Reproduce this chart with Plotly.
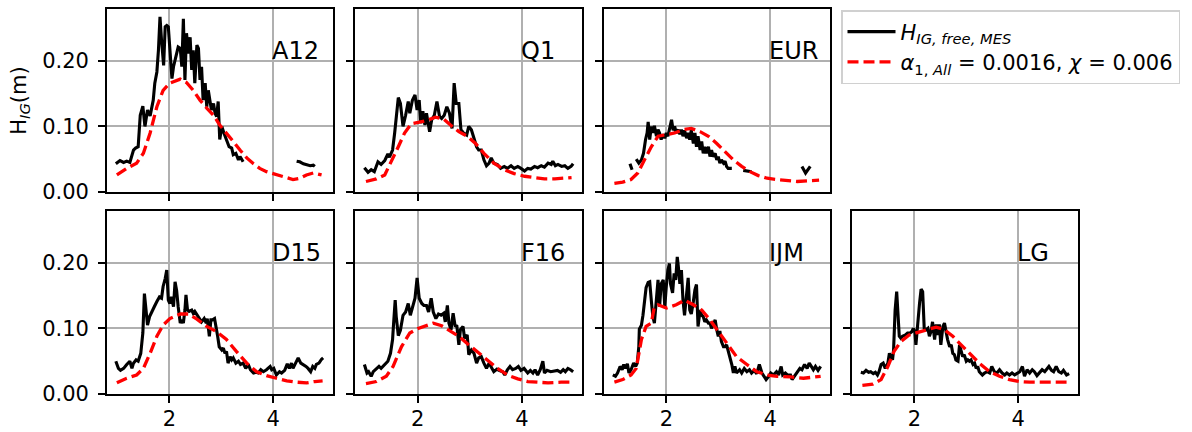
import plotly.graph_objects as go

# ---------------- data ----------------
names = ["A12", "Q1", "EUR", "D15", "F16", "IJM", "LG"]

A12_bx = [0.97,1.05,1.12,1.18,1.24,1.31,1.35,1.40,1.44,1.49,1.53,1.58,1.63,1.69,1.72,1.76,1.79,1.82,1.85,1.89,
          1.92,1.95,1.98,2.01,2.05,2.08,2.13,2.17,2.21,2.24,2.27,2.30,2.33,2.37,2.40,2.43,2.46,2.49,2.53,2.56,
          2.59,2.62,2.65,2.69,2.72,2.75,2.78,2.81,2.85,2.88,2.91,2.94,2.97,3.01,3.05,3.10,3.15,3.20,3.23,3.28,
          3.33,3.36,3.42,None,4.45,4.51,4.58,4.64,4.71,4.77,4.80]
A12_by = [0.043,0.048,0.045,0.047,0.045,0.064,0.067,0.069,0.117,0.131,0.100,0.125,0.116,0.140,0.166,0.183,0.216,0.267,0.231,0.193,
          0.252,0.254,0.252,0.211,0.173,0.191,0.209,0.221,0.219,0.191,0.264,0.171,0.242,0.211,0.236,0.186,0.216,0.166,0.224,0.219,
          0.171,0.191,0.140,0.166,0.130,0.155,0.140,0.125,0.135,0.120,0.115,0.138,0.080,0.100,0.090,0.080,0.069,0.067,0.057,0.059,
          0.049,0.054,0.046,None,0.047,0.046,0.043,0.042,0.040,0.041,0.039]
A12_rx = [0.99,1.18,1.37,1.50,1.63,1.76,1.88,2.01,2.21,2.33,2.46,2.59,2.72,2.85,2.97,3.10,3.23,3.36,3.49,3.62,
          3.74,3.87,4.00,4.13,4.26,4.38,4.51,4.64,4.77,4.93]
A12_ry = [0.026,0.036,0.044,0.059,0.090,0.130,0.155,0.166,0.172,0.167,0.155,0.140,0.128,0.117,0.102,0.090,0.077,0.064,0.052,0.043,
          0.036,0.031,0.028,0.024,0.021,0.019,0.021,0.026,0.029,0.026]

Q1_bx = [0.98,1.05,1.11,1.17,1.24,1.30,1.37,1.43,1.46,1.52,1.56,1.63,1.67,1.72,1.77,1.82,1.85,1.90,1.95,1.99,
         2.03,2.06,2.10,2.14,2.17,2.23,2.27,2.32,2.37,2.42,2.46,2.51,2.56,2.61,2.66,2.70,2.74,2.79,2.83,2.88,
         2.94,2.98,3.03,3.08,3.13,3.17,3.22,3.27,3.32,3.37,3.41,3.46,3.53,3.59,3.66,3.72,3.79,3.85,3.92,3.98,
         4.05,4.11,4.17,4.24,4.30,4.37,4.43,4.50,4.56,4.59,4.64,4.69,4.76,4.82,4.88,4.94,4.98]
Q1_by = [0.037,0.030,0.034,0.031,0.046,0.042,0.048,0.058,0.053,0.064,0.090,0.144,0.135,0.100,0.117,0.138,0.120,0.140,0.148,0.125,
         0.140,0.105,0.123,0.102,0.120,0.092,0.110,0.117,0.138,0.115,0.112,0.117,0.130,0.120,0.097,0.166,0.135,0.135,0.095,0.090,
         0.087,0.100,0.095,0.082,0.069,0.064,0.064,0.049,0.040,0.044,0.052,0.044,0.042,0.036,0.039,0.036,0.040,0.036,0.039,0.036,
         0.032,0.036,0.035,0.039,0.037,0.040,0.038,0.044,0.042,0.047,0.040,0.042,0.039,0.040,0.036,0.039,0.043]
Q1_rx = [1.01,1.21,1.37,1.50,1.63,1.75,1.88,2.01,2.17,2.34,2.50,2.63,2.79,2.95,3.11,3.27,3.46,3.66,3.85,4.05,
         4.24,4.43,4.63,4.82,4.95]
Q1_ry = [0.016,0.020,0.026,0.049,0.069,0.090,0.104,0.106,0.109,0.114,0.111,0.102,0.092,0.085,0.074,0.059,0.044,0.034,0.028,0.024,
         0.022,0.020,0.020,0.021,0.022]

EUR_bx = [1.30,1.34,None,1.42,1.47,1.52,1.56,1.60,1.63,1.65,1.68,1.71,1.74,1.77,1.81,1.84,1.87,1.90,1.94,1.97,
          2.00,2.03,2.06,2.10,2.13,2.16,2.19,2.23,2.26,2.29,2.32,2.35,2.39,2.42,2.45,2.48,2.52,2.55,2.58,2.61,
          2.65,2.68,2.71,2.74,2.77,2.81,2.84,2.87,2.90,2.94,2.97,3.00,3.03,3.06,3.10,3.13,3.16,3.19,3.26,None,
          3.48,3.64,None,4.61,4.68,4.77]
EUR_by = [0.043,0.034,None,0.050,0.044,0.049,0.059,0.080,0.090,0.107,0.080,0.100,0.090,0.101,0.085,0.095,0.090,0.080,0.088,0.082,
          0.090,0.085,0.094,0.110,0.094,0.100,0.090,0.095,0.088,0.095,0.085,0.094,0.082,0.090,0.080,0.094,0.074,0.090,0.069,0.085,
          0.064,0.077,0.059,0.069,0.059,0.069,0.054,0.064,0.054,0.059,0.049,0.054,0.044,0.049,0.044,0.047,0.039,0.036,0.036,None,
          0.033,0.031,None,0.039,0.029,0.039]
EUR_rx = [1.00,1.16,1.32,1.45,1.58,1.71,1.84,2.00,2.16,2.32,2.48,2.65,2.81,2.97,3.13,3.29,3.45,3.61,3.77,3.94,
          4.13,4.32,4.52,4.71,4.94]
EUR_ry = [0.013,0.015,0.019,0.029,0.049,0.069,0.085,0.087,0.090,0.095,0.097,0.092,0.085,0.074,0.062,0.049,0.039,0.031,0.025,0.021,
          0.019,0.017,0.016,0.017,0.018]

D15_bx = [0.97,1.02,1.06,1.12,1.18,1.24,1.28,1.31,1.36,1.40,1.45,1.49,1.52,1.55,1.58,1.62,1.66,1.71,1.76,1.81,
          1.85,1.88,1.92,1.95,1.98,2.01,2.04,2.08,2.11,2.14,2.17,2.21,2.24,2.27,2.30,2.32,2.35,2.38,2.43,2.46,
          2.49,2.53,2.56,2.59,2.62,2.67,2.71,2.73,2.77,2.80,2.83,2.87,2.90,2.93,2.96,3.01,3.04,3.07,3.10,3.13,
          3.17,3.20,3.23,3.28,3.33,3.37,3.42,3.47,3.52,3.56,3.62,3.67,3.71,3.76,3.81,3.87,3.94,3.97,4.01,4.06,
          4.12,4.16,4.22,4.27,4.31,4.35,4.38,4.44,4.48,4.53,4.58,4.63,4.67,4.72,4.76,4.80,4.83,4.88,4.93,4.96]
D15_by = [0.050,0.039,0.036,0.039,0.045,0.050,0.039,0.047,0.052,0.050,0.062,0.093,0.153,0.133,0.105,0.118,0.126,0.133,0.141,0.148,
          0.146,0.164,0.176,0.189,0.143,0.138,0.148,0.133,0.171,0.158,0.133,0.108,0.113,0.108,0.128,0.151,0.128,0.126,0.128,0.123,
          0.126,0.121,0.118,0.115,0.110,0.115,0.108,0.115,0.088,0.113,0.113,0.115,0.103,0.088,0.072,0.067,0.070,0.062,0.065,0.047,
          0.057,0.052,0.055,0.047,0.050,0.045,0.047,0.039,0.045,0.037,0.032,0.033,0.032,0.037,0.034,0.037,0.042,0.037,0.039,0.029,
          0.034,0.032,0.036,0.046,0.039,0.047,0.039,0.050,0.055,0.047,0.045,0.042,0.039,0.034,0.042,0.039,0.045,0.047,0.053,0.055]
D15_rx = [0.99,1.18,1.37,1.50,1.63,1.76,1.88,2.01,2.21,2.37,2.53,2.72,2.91,3.10,3.29,3.49,3.68,3.87,4.06,4.26,
          4.45,4.64,4.80,4.95]
D15_ry = [0.017,0.024,0.029,0.039,0.062,0.088,0.105,0.115,0.122,0.122,0.114,0.103,0.095,0.083,0.065,0.047,0.034,0.028,0.024,0.020,
          0.018,0.017,0.019,0.020]

F16_bx = [0.98,1.03,1.06,1.11,1.15,1.21,1.26,1.30,1.37,1.43,1.48,1.52,1.54,1.57,1.59,1.63,1.67,1.72,1.77,1.82,
          1.86,1.90,1.95,1.99,2.03,2.08,2.12,2.17,2.21,2.26,2.30,2.35,2.40,2.45,2.50,2.53,2.57,2.60,2.64,2.68,
          2.72,2.75,2.79,2.82,2.87,2.90,2.95,2.98,3.03,3.08,3.13,3.17,3.22,3.27,3.32,3.37,3.41,3.46,3.52,3.56,
          3.63,3.67,3.72,3.77,3.82,3.88,3.93,3.98,4.04,4.11,4.16,4.21,4.25,4.30,4.35,4.40,4.43,4.48,4.55,4.61,
          4.68,4.74,4.79,4.83,4.88,4.93,4.98]
F16_by = [0.045,0.032,0.034,0.027,0.034,0.039,0.042,0.039,0.045,0.050,0.062,0.083,0.108,0.143,0.118,0.089,0.097,0.120,0.125,0.138,
          0.120,0.133,0.146,0.177,0.146,0.138,0.135,0.135,0.125,0.146,0.125,0.115,0.122,0.120,0.123,0.110,0.135,0.108,0.098,0.123,
          0.103,0.105,0.075,0.098,0.103,0.085,0.090,0.060,0.067,0.062,0.047,0.055,0.057,0.047,0.039,0.047,0.042,0.034,0.038,0.036,
          0.034,0.029,0.037,0.042,0.037,0.039,0.042,0.036,0.039,0.032,0.036,0.032,0.037,0.029,0.037,0.050,0.032,0.036,0.034,0.035,
          0.036,0.033,0.037,0.034,0.039,0.037,0.034]
F16_rx = [1.01,1.21,1.40,1.53,1.69,1.85,2.01,2.17,2.30,2.46,2.63,2.79,2.95,3.14,3.34,3.53,3.72,3.92,4.11,4.30,
          4.50,4.75,4.95]
F16_ry = [0.016,0.019,0.027,0.042,0.072,0.093,0.100,0.105,0.108,0.104,0.095,0.088,0.077,0.065,0.052,0.039,0.029,0.023,0.019,0.018,
          0.017,0.018,0.018]

IJM_bx = [0.97,1.02,1.06,1.11,1.15,1.18,1.21,1.25,1.28,1.32,1.37,1.41,1.44,1.47,1.48,1.52,1.55,1.58,1.61,1.65,
          1.68,1.71,1.74,1.77,1.81,1.84,1.87,1.90,1.94,1.97,2.00,2.03,2.06,2.08,2.12,2.15,2.18,2.21,2.23,2.26,
          2.29,2.32,2.35,2.39,2.42,2.45,2.48,2.52,2.55,2.58,2.61,2.65,2.68,2.71,2.74,2.77,2.81,2.84,2.87,2.90,
          2.94,2.97,3.00,3.03,3.06,3.10,3.13,3.16,3.19,3.23,3.26,3.29,3.32,3.35,3.41,3.45,3.50,3.55,3.60,3.64,
          3.69,3.74,3.79,3.84,3.88,3.92,3.97,4.01,4.06,4.12,4.16,4.21,4.24,4.29,4.33,4.39,4.42,4.46,4.52,4.57,
          4.61,4.66,4.71,4.75,4.79,4.83,4.87,4.92,4.97]
IJM_by = [0.029,0.027,0.032,0.042,0.037,0.045,0.039,0.046,0.032,0.037,0.047,0.042,0.047,0.072,0.099,0.105,0.120,0.143,0.162,0.170,
          0.171,0.143,0.118,0.108,0.149,0.174,0.133,0.168,0.174,0.133,0.165,0.189,0.199,0.168,0.154,0.184,0.174,0.209,0.195,0.168,
          0.189,0.143,0.120,0.149,0.177,0.128,0.122,0.141,0.159,0.167,0.103,0.128,0.120,0.118,0.110,0.113,0.108,0.108,0.100,0.105,
          0.113,0.098,0.088,0.096,0.080,0.072,0.072,0.075,0.067,0.057,0.045,0.032,0.042,0.032,0.037,0.032,0.039,0.034,0.037,0.032,
          0.036,0.031,0.045,0.032,0.027,0.022,0.027,0.032,0.029,0.034,0.029,0.042,0.029,0.032,0.029,0.029,0.022,0.027,0.034,0.039,
          0.037,0.045,0.039,0.047,0.042,0.037,0.042,0.036,0.042]
IJM_rx = [1.00,1.16,1.32,1.42,1.52,1.61,1.71,1.77,1.84,2.00,2.19,2.35,2.52,2.68,2.84,3.00,3.16,3.35,3.55,3.74,
          3.94,4.13,4.39,4.64,4.97]
IJM_ry = [0.018,0.022,0.029,0.039,0.083,0.103,0.108,0.133,0.136,0.131,0.136,0.143,0.136,0.128,0.113,0.096,0.077,0.057,0.045,0.034,
          0.029,0.027,0.026,0.024,0.027]

LG_bx = [0.97,1.02,1.07,1.12,1.16,1.21,1.25,1.29,1.32,1.36,1.40,1.44,1.49,1.52,1.55,1.58,1.60,1.63,1.66,1.68,
         1.71,1.74,1.77,1.83,1.87,1.92,1.95,1.98,2.01,2.03,2.06,2.10,2.13,2.16,2.19,2.23,2.26,2.29,2.32,2.35,
         2.39,2.42,2.45,2.48,2.51,2.55,2.58,2.61,2.64,2.68,2.71,2.74,2.77,2.80,2.84,2.87,2.90,2.93,2.96,3.00,
         3.03,3.06,3.09,3.13,3.16,3.19,3.22,3.25,3.31,3.35,3.40,3.45,3.49,3.54,3.59,3.64,3.69,3.74,3.78,3.83,
         3.88,3.93,3.97,4.03,4.08,4.12,4.17,4.22,4.27,4.31,4.36,4.41,4.46,4.51,4.55,4.59,4.64,4.68,4.73,4.78,
         4.83,4.87,4.93,4.98]
LG_by = [0.033,0.032,0.036,0.033,0.034,0.031,0.033,0.029,0.034,0.045,0.047,0.039,0.047,0.062,0.057,0.052,0.067,0.128,0.156,0.118,
         0.088,0.085,0.088,0.090,0.093,0.093,0.095,0.100,0.095,0.075,0.108,0.138,0.160,0.156,0.100,0.098,0.100,0.088,0.095,0.110,
         0.083,0.106,0.090,0.106,0.075,0.103,0.108,0.093,0.083,0.072,0.075,0.062,0.060,0.052,0.050,0.075,0.067,0.057,0.060,0.050,
         0.052,0.050,0.052,0.045,0.047,0.039,0.042,0.034,0.029,0.032,0.034,0.032,0.042,0.034,0.032,0.037,0.032,0.029,0.032,0.029,
         0.032,0.029,0.031,0.034,0.042,0.027,0.037,0.032,0.037,0.034,0.028,0.032,0.037,0.034,0.038,0.042,0.036,0.034,0.042,0.034,
         0.032,0.036,0.029,0.031]
LG_rx = [1.00,1.20,1.36,1.49,1.61,1.74,1.90,2.06,2.23,2.42,2.58,2.74,2.90,3.06,3.25,3.45,3.64,3.83,4.03,4.22,
         4.48,4.73,4.93]
LG_ry = [0.013,0.015,0.022,0.042,0.065,0.080,0.090,0.094,0.098,0.102,0.098,0.088,0.075,0.062,0.047,0.034,0.027,0.022,0.019,0.018,
         0.018,0.017,0.018]

meas_x = [A12_bx, Q1_bx, EUR_bx, D15_bx, F16_bx, IJM_bx, LG_bx]
meas_y = [A12_by, Q1_by, EUR_by, D15_by, F16_by, IJM_by, LG_by]
mod_x = [A12_rx, Q1_rx, EUR_rx, D15_rx, F16_rx, IJM_rx, LG_rx]
mod_y = [A12_ry, Q1_ry, EUR_ry, D15_ry, F16_ry, IJM_ry, LG_ry]

x_ticks = [2, 4]
y_ticks = [0.0, 0.1, 0.2]
y_ticklabels = ["0.00", "0.10", "0.20"]
y_title = "H<sub><i>IG</i></sub>(m)"
legend_meas = "<i>H</i><sub><i>IG, free, MES</i></sub>"
legend_mod = "<i>α</i><sub>1, <i>All</i></sub> = 0.0016, <i>χ</i> = 0.006"

# ---------------- layout ----------------
W, H = 1192, 432
FONT = "DejaVu Sans"
positions = [(0, 0), (0, 1), (0, 2), (1, 0), (1, 1), (1, 2), (1, 3)]
col_px = [(107, 333), (355, 582), (604, 830), (852, 1078)]
row_px = [(9, 192), (211, 394)]

fig = go.Figure()
layout = dict(
    width=W, height=H,
    margin=dict(l=0, r=0, t=0, b=0, autoexpand=False),
    paper_bgcolor="white", plot_bgcolor="white",
    font=dict(family=FONT, size=21, color="black"),
    showlegend=True,
    legend=dict(x=841 / W, y=1 - 10 / H, xanchor="left", yanchor="top",
                bgcolor="white", bordercolor="#d0d0d0", borderwidth=1.5,
                font=dict(family=FONT, size=21, color="black"),
                traceorder="normal", tracegroupgap=2, itemwidth=48),
)
annotations = []

for i, name in enumerate(names):
    r, c = positions[i]
    sfx = "" if i == 0 else str(i + 1)
    fig.add_trace(go.Scatter(
        x=meas_x[i], y=meas_y[i], mode="lines", connectgaps=False,
        line=dict(color="black", width=3.1),
        name=legend_meas, legendgroup="meas", showlegend=(i == 0),
        xaxis="x" + sfx, yaxis="y" + sfx))
    fig.add_trace(go.Scatter(
        x=mod_x[i], y=mod_y[i], mode="lines",
        line=dict(color="red", width=3.3, dash="11px,5px"),
        name=legend_mod, legendgroup="mod", showlegend=(i == 0),
        xaxis="x" + sfx, yaxis="y" + sfx))
    x0, x1 = col_px[c]
    y0, y1 = row_px[r]
    common = dict(showline=True, linecolor="black", linewidth=1.7, mirror=True,
                  ticks="outside", ticklen=7, tickwidth=1.7, tickcolor="black",
                  showgrid=True, gridcolor="#b0b0b0", gridwidth=1.7, zeroline=False,
                  tickfont=dict(family=FONT, size=21, color="black"))
    layout["xaxis" + sfx] = dict(common, domain=[x0 / W, x1 / W], anchor="y" + sfx,
                                 range=[0.8, 5.15], tickmode="array", tickvals=x_ticks,
                                 showticklabels=(r == 1), ticklabelstandoff=-2)
    yax = dict(common, domain=[1 - y1 / H, 1 - y0 / H], anchor="x" + sfx,
               range=[0, 0.279], tickmode="array", tickvals=y_ticks,
               ticktext=y_ticklabels, showticklabels=(c == 0),
               ticklabelstandoff=5)
    if i == 0:
        yax["title"] = dict(text=y_title, standoff=10,
                            font=dict(family=FONT, size=21, color="black"))
    layout["yaxis" + sfx] = yax
    annotations.append(dict(text=name, x=4.0, y=0.2, xref="x" + sfx, yref="y" + sfx,
                            xanchor="left", yanchor="bottom", yshift=-6, xshift=-3,
                            showarrow=False, font=dict(family=FONT, size=24, color="black")))

layout["annotations"] = annotations
fig.update_layout(**layout)
fig.write_html("out.html")
